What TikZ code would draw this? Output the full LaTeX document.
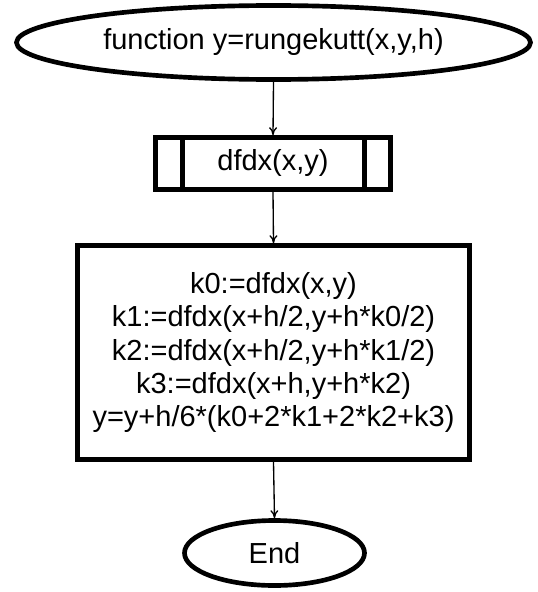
\documentclass[tikz,border=0pt]{standalone}
\usepackage{fontspec}
\setmainfont{Liberation Sans}
\usetikzlibrary{shapes.geometric,arrows.meta}
\begin{document}
\begin{tikzpicture}[x=0.75pt,y=-0.75pt,
  border/.style={draw, line width=3.5pt},
  term/.style={border, ellipse, inner sep=0pt},
  proc/.style={border, rectangle, inner sep=0pt},
  flow/.style={line width=1pt, -{To[length=6pt,width=6pt]}},
  txt/.style={font=\fontsize{21.75}{25}\selectfont, align=center}]
\useasboundingbox (0,0) rectangle (538,592);
\node[term, txt, minimum width=385.5pt, minimum height=55.5pt] (start) at (273.5,42.5) {function y=rungekutt(x,y,h)};
\node[proc, txt, minimum width=176.25pt, minimum height=39pt] (sub) at (273,163.5) {dfdx(x,y)};
\draw[line width=3.5pt] ([xshift=22.2pt]sub.north west) -- ([xshift=22.2pt]sub.south west);
\draw[line width=3.5pt] ([xshift=-21.5pt]sub.north east) -- ([xshift=-21.5pt]sub.south east);
\node[proc, txt, minimum width=294pt, minimum height=160.5pt] (calc) at (273.5,352.5) {k0:=dfdx(x,y)\\k1:=dfdx(x+h/2,y+h*k0/2)\\k2:=dfdx(x+h/2,y+h*k1/2)\\k3:=dfdx(x+h,y+h*k2)\\y=y+h/6*(k0+2*k1+2*k2+k3)};
\node[term, txt, minimum width=135pt, minimum height=48.75pt] (end) at (274.5,553) {End};
\draw[flow] (start.south) -- (sub.north);
\draw[flow] (sub.south) -- (calc.north);
\draw[flow] (calc.south) -- (end.north);
\end{tikzpicture}
\end{document}
